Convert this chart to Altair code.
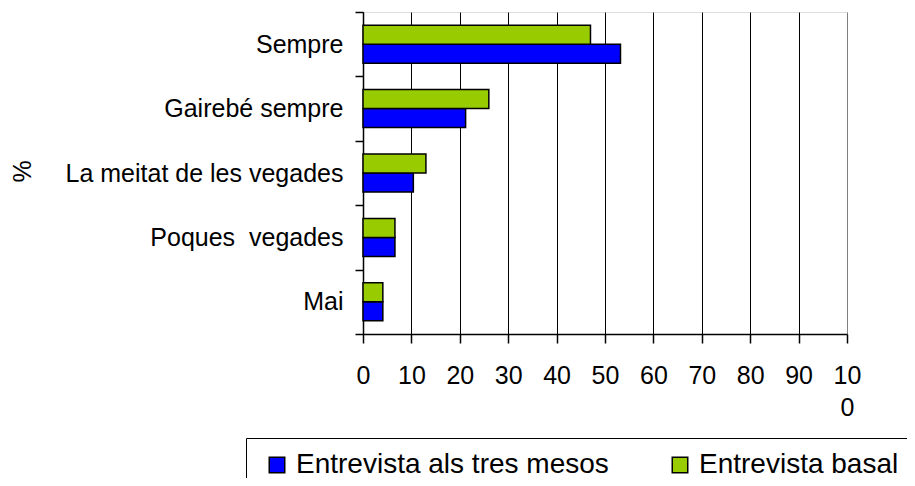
import altair as alt
import pandas as pd

categories = ["Sempre", "Gairebé sempre", "La meitat de les vegades", "Poques\u00a0 vegades", "Mai"]
series = ["Entrevista als tres mesos", "Entrevista basal"]
tres_mesos = [53.2, 21.2, 10.4, 6.6, 4.1]
basal = [47.0, 26.0, 13.0, 6.6, 4.1]
colors = ["#0000FF", "#99CC00"]
x_ticks = [0, 10, 20, 30, 40, 50, 60, 70, 80, 90, 100]

df = pd.DataFrame({
    "categoria": categories + categories,
    "serie": [series[0]] * len(categories) + [series[1]] * len(categories),
    "valor": tres_mesos + basal,
})

FONT = "Liberation Sans"

chart = alt.Chart(df).mark_bar(stroke="black", strokeWidth=1.5).encode(
    x=alt.X(
        "valor:Q",
        scale=alt.Scale(domain=[0, 100], nice=False, zero=True),
        axis=alt.Axis(
            values=x_ticks,
            title=None,
            grid=True,
            gridColor={"condition": {"test": "datum.value === 100", "value": "#808080"}, "value": "#000000"},
            gridWidth=1,
            labelExpr="datum.value === 100 ? ['10', '0'] : datum.label",
            labelFontSize=25,
            labelFont=FONT,
            labelColor="black",
            labelLineHeight=32,
            labelPadding=20,
            labelFlush=False,
            labelOverlap=False,
            tickSize=9,
            tickColor="black",
            tickWidth=1.5,
            domainColor="black",
            domainWidth=1.5,
        ),
    ),
    y=alt.Y(
        "categoria:N",
        sort=categories,
        scale=alt.Scale(paddingInner=0, paddingOuter=0),
        axis=alt.Axis(
            title="%",
            titleFont=FONT,
            titleFontSize=25,
            titleFontWeight="normal",
            titleColor="black",
            titleX=-341,
            titleY=159,
            titleAlign="center",
            titleBaseline="middle",
            titleAngle=270,
            tickBand="extent",
            tickSize=8,
            tickColor="black",
            tickWidth=1.5,
            domainColor="black",
            domainWidth=1.5,
            labelFontSize=25,
            labelFont=FONT,
            labelColor="black",
            labelPadding=12,
            labelLimit=500,
            grid=False,
        ),
    ),
    yOffset=alt.YOffset(
        "serie:N",
        sort=[series[1], series[0]],
        scale=alt.Scale(paddingInner=0, paddingOuter=0.695),
    ),
    color=alt.Color(
        "serie:N",
        scale=alt.Scale(domain=series, range=colors),
        legend=alt.Legend(
            title=None,
            orient="none",
            legendX=-117,
            legendY=426,
            direction="horizontal",
            symbolType="square",
            symbolSize=240,
            symbolStrokeColor="black",
            symbolStrokeWidth=1.5,
            symbolOffset=4,
            labelFont=FONT,
            labelFontSize=28,
            labelColor="black",
            labelOffset=5,
            labelLimit=500,
            columnPadding=53,
            padding=13,
            strokeColor="black",
            fillColor="white",
        ),
    ),
).properties(
    width=484,
    height=322,
    autosize=alt.AutoSizeParams(type="none"),
    padding={"left": 355, "top": 4, "right": 60, "bottom": 144},
).configure_view(
    stroke="#808080",
    strokeWidth=1.5,
).configure_legend(
    strokeWidth=2,
).configure(
    font=FONT,
    background="white",
)

chart.save("out.html", embed_options={"renderer": "svg", "actions": False})
